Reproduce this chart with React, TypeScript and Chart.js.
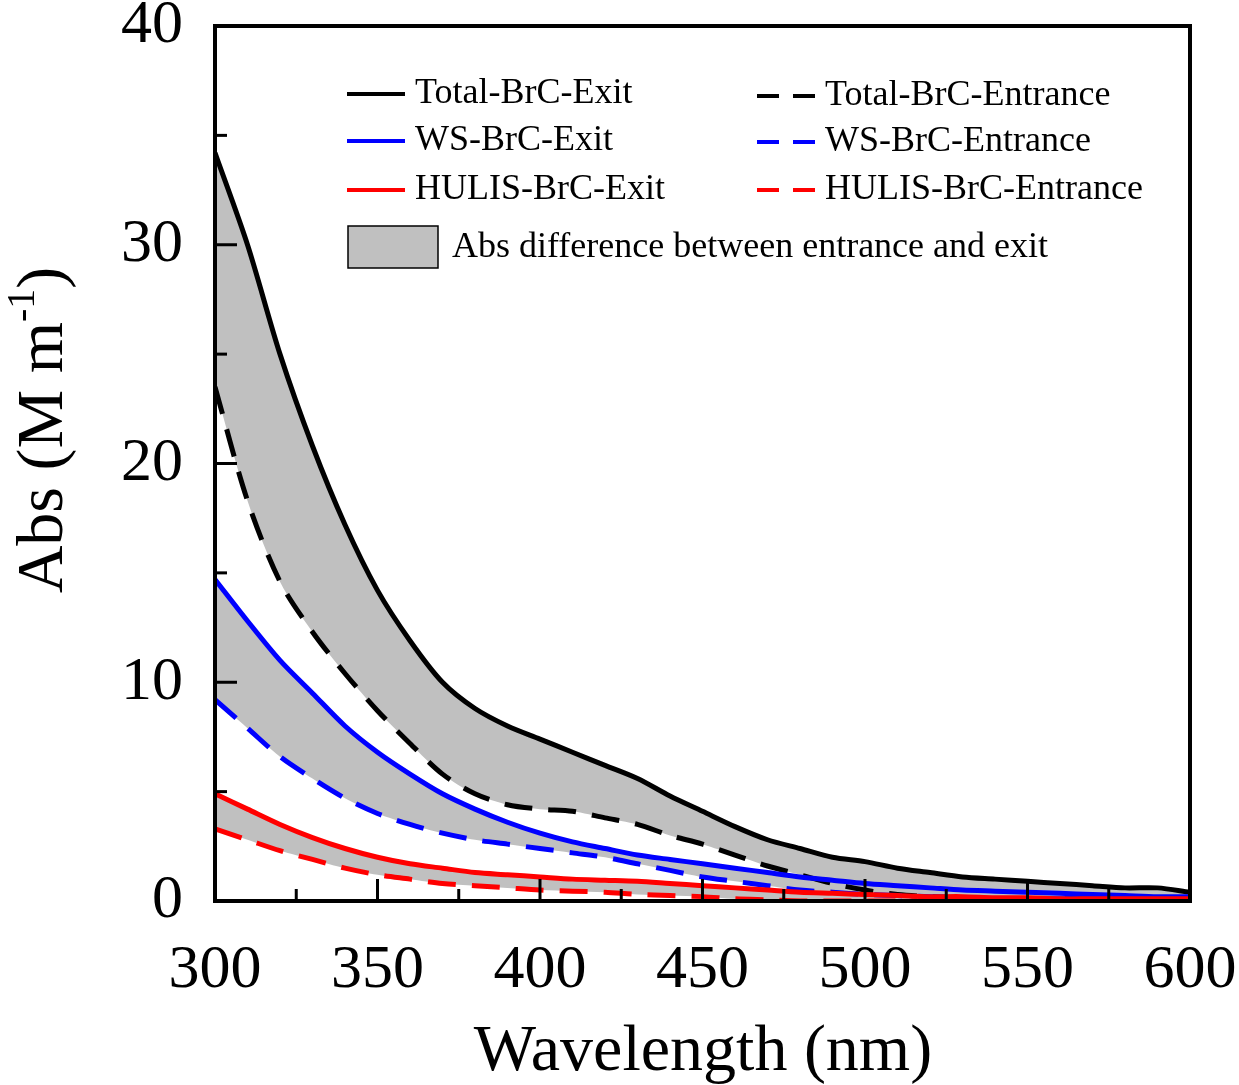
import React, { useEffect, useRef } from "react";
import { Chart, registerables } from "chart.js";
Chart.register(...registerables);

const wavelengths = [300,310,320,330,340,350,360,370,380,390,400,410,420,430,440,450,460,470,480,490,500,510,520,530,540,550,560,570,580,590,600];
const totalExit = [34.2,30.0,25.0,20.8,17.2,14.2,11.9,10.0,8.8,8.0,7.4,6.8,6.2,5.6,4.8,4.1,3.4,2.8,2.4,2.0,1.8,1.5,1.3,1.1,1.0,0.9,0.8,0.7,0.6,0.6,0.4];
const totalEntrance = [23.5,18.3,14.6,12.3,10.4,8.7,7.2,5.8,4.9,4.4,4.2,4.1,3.8,3.5,3.0,2.6,2.1,1.6,1.2,0.8,0.5,0.3,0.2,0.15,0.1,0.1,0.1,0.1,0.1,0.1,0.1];
const wsExit = [14.7,12.8,11.0,9.5,8.0,6.8,5.8,4.9,4.2,3.6,3.1,2.7,2.4,2.1,1.9,1.7,1.5,1.3,1.1,0.95,0.8,0.7,0.6,0.5,0.45,0.4,0.35,0.3,0.25,0.2,0.2];
const wsEntrance = [9.2,7.9,6.6,5.6,4.7,4.0,3.5,3.1,2.8,2.6,2.4,2.2,2.0,1.7,1.4,1.1,0.9,0.7,0.5,0.4,0.3,0.25,0.2,0.15,0.1,0.1,0.1,0.1,0.1,0.1,0.1];
const hulisExit = [4.9,4.2,3.5,2.9,2.4,2.0,1.7,1.5,1.3,1.2,1.1,1.0,0.95,0.9,0.8,0.7,0.6,0.5,0.4,0.35,0.3,0.25,0.2,0.2,0.15,0.15,0.1,0.1,0.1,0.1,0.1];
const hulisEntrance = [3.3,2.8,2.3,1.9,1.5,1.2,1.0,0.8,0.7,0.6,0.5,0.45,0.4,0.3,0.25,0.2,0.1,0.05,0,0,0,0,0,0,0,0,0,0,0,0,0];
const xTickLabels = [300,350,400,450,500,550,600];
const yTickLabels = [0,10,20,30,40];

const FONT = "'Liberation Serif', 'Times New Roman', serif";
const GREY = "#c0c0c0";

const pts = (arr: number[]) => arr.map((v, i) => ({ x: wavelengths[i], y: v }));

export default function App() {
  const ref = useRef<HTMLCanvasElement>(null);
  useEffect(() => {
    document.body.style.margin = "0";
    const frame = {
      id: "frame",
      afterDraw(chart: any) {
        const { ctx, chartArea: a, scales } = chart;
        const xs = scales.x, ys = scales.y;
        ctx.save();
        ctx.strokeStyle = "#000";
        ctx.lineWidth = 4;
        ctx.strokeRect(a.left, a.top, a.right - a.left, a.bottom - a.top);
        ctx.lineWidth = 3;
        for (let v = 300; v <= 600; v += 25) {
          const px = xs.getPixelForValue(v);
          const len = v % 50 === 0 ? 22 : 12;
          ctx.beginPath(); ctx.moveTo(px, a.bottom); ctx.lineTo(px, a.bottom - len); ctx.stroke();
        }
        for (let v = 0; v <= 40; v += 5) {
          const py = ys.getPixelForValue(v);
          const len = v % 10 === 0 ? 22 : 12;
          ctx.beginPath(); ctx.moveTo(a.left, py); ctx.lineTo(a.left + len, py); ctx.stroke();
        }
        ctx.fillStyle = "#000";
        ctx.font = `62px ${FONT}`;
        ctx.textAlign = "center"; ctx.textBaseline = "middle";
        xTickLabels.forEach(v => ctx.fillText(String(v), xs.getPixelForValue(v), a.bottom + 70));
        ctx.textAlign = "right"; ctx.textBaseline = "middle";
        yTickLabels.forEach(v => ctx.fillText(String(v), a.left - 32, ys.getPixelForValue(v)));
        ctx.font = `66px ${FONT}`;
        ctx.textAlign = "center"; ctx.textBaseline = "alphabetic";
        ctx.fillText("Wavelength (nm)", 703, 1070);
        // y title
        ctx.translate(62, 430);
        ctx.rotate(-Math.PI / 2);
        ctx.textAlign = "left";
        const t1 = "Abs (M m";
        const w1 = ctx.measureText(t1).width;
        ctx.font = `40px ${FONT}`;
        const w2 = ctx.measureText("-1").width;
        ctx.font = `66px ${FONT}`;
        const w3 = ctx.measureText(")").width;
        const start = -(w1 + w2 + w3) / 2;
        ctx.fillText(t1, start, 0);
        ctx.font = `40px ${FONT}`;
        ctx.fillText("-1", start + w1, -28);
        ctx.font = `66px ${FONT}`;
        ctx.fillText(")", start + w1 + w2, 0);
        ctx.restore();
        // legend
        ctx.save();
        ctx.font = `36px ${FONT}`;
        ctx.textBaseline = "middle"; ctx.textAlign = "left";
        const items = [
          ["Total-BrC-Exit", "#000", false, 347, 94],
          ["WS-BrC-Exit", "#0000ff", false, 347, 141],
          ["HULIS-BrC-Exit", "#ff0000", false, 347, 190],
          ["Total-BrC-Entrance", "#000", true, 757, 96],
          ["WS-BrC-Entrance", "#0000ff", true, 757, 142],
          ["HULIS-BrC-Entrance", "#ff0000", true, 757, 190],
        ] as any[];
        items.forEach(([t, c, d, x, y]) => {
          ctx.strokeStyle = c; ctx.lineWidth = 4;
          ctx.setLineDash(d ? [22, 14] : []);
          ctx.beginPath(); ctx.moveTo(x, y); ctx.lineTo(x + 58, y); ctx.stroke();
          ctx.fillStyle = "#000";
          ctx.fillText(t, x + 68, y);
        });
        ctx.setLineDash([]);
        ctx.fillStyle = GREY; ctx.fillRect(348, 226, 90, 42);
        ctx.strokeStyle = "#000"; ctx.lineWidth = 1.5; ctx.strokeRect(348, 226, 90, 42);
        ctx.fillStyle = "#000";
        ctx.fillText("Abs difference between entrance and exit", 452, 248);
        ctx.restore();
      },
    };
    const mk = (label: string, data: number[], color: string, dashed: boolean, fill: any) => ({
      label, data: pts(data), borderColor: color, borderWidth: 5, borderDash: dashed ? [28, 16] : [],
      pointRadius: 0, tension: 0.3, fill, backgroundColor: GREY,
    });
    const chart = new Chart(ref.current!, {
      type: "line",
      data: {
        datasets: [
          mk("HULIS-BrC-Exit", hulisExit, "#ff0000", false, 1),
          mk("HULIS-BrC-Entrance", hulisEntrance, "#ff0000", true, false),
          mk("WS-BrC-Exit", wsExit, "#0000ff", false, 3),
          mk("WS-BrC-Entrance", wsEntrance, "#0000ff", true, false),
          mk("Total-BrC-Exit", totalExit, "#000000", false, 5),
          mk("Total-BrC-Entrance", totalEntrance, "#000000", true, false),
        ],
      },
      options: {
        animation: false, responsive: false,
        layout: { padding: { left: 215, right: 49, top: 26, bottom: 184 } },
        plugins: { legend: { display: false }, tooltip: { enabled: false }, filler: { drawTime: "beforeDatasetsDraw" } } as any,
        scales: {
          x: { type: "linear", min: 300, max: 600, display: false },
          y: { min: 0, max: 40, display: false },
        },
      },
      plugins: [frame],
    });
    return () => chart.destroy();
  }, []);
  return (
    <div style={{ position: "absolute", left: 0, top: 0, width: 1239, height: 1085, background: "#fff" }}>
      <canvas ref={ref} width={1239} height={1085} style={{ width: 1239, height: 1085 }} />
    </div>
  );
}
